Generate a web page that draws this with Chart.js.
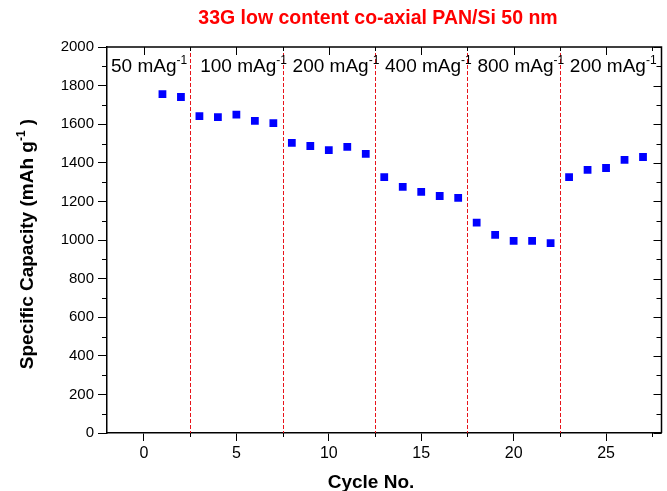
<!DOCTYPE html>
<html>
<head>
<meta charset="utf-8">
<script src="https://cdn.jsdelivr.net/npm/chart.js@4"></script>
<style>
  body { margin: 0; background: #fff; }
</style>
</head>
<body>
<canvas id="rateChart" width="667" height="491"></canvas>
<script>
// cycle number vs specific capacity (mAh/g)
const cycles = [1, 2, 3, 4, 5, 6, 7, 8, 9, 10, 11, 12, 13, 14, 15, 16, 17, 18, 19, 20, 21, 22, 23, 24, 25, 26, 27];
const capacity = [1756, 1741, 1642, 1637, 1650, 1617, 1606, 1503, 1487, 1466, 1482, 1446,
                  1326, 1275, 1249, 1228, 1218, 1090, 1026, 995, 995, 984,
                  1326, 1363, 1373, 1415, 1430];
// current-rate changes happen between these cycles
const rateBoundaries = [2.5, 7.5, 12.5, 17.5, 22.5];
const rateLabels = ['50', '100', '200', '400', '800', '200'];
const xTicks = [0, 5, 10, 15, 20, 25];
const xMinor = [2.5, 7.5, 12.5, 17.5, 22.5, 27.5];
const yMinor = [100, 300, 500, 700, 900, 1100, 1300, 1500, 1700, 1900];

const FONT = '"Liberation Sans", Arial, sans-serif';

function drawSup(ctx, base, sup, x, y, font, supFont, rise) {
    ctx.font = font;
    ctx.fillText(base, x, y);
    const w = ctx.measureText(base).width;
    ctx.font = supFont;
    ctx.fillText(sup, x + w, y - rise);
    return w + ctx.measureText(sup).width;
}

function supWidth(ctx, base, sup, font, supFont) {
    ctx.font = font;
    const w = ctx.measureText(base).width;
    ctx.font = supFont;
    return w + ctx.measureText(sup).width;
}

const decor = {
    id: 'decor',
    beforeDatasetsDraw(chart) {
        const ctx = chart.ctx;
        const area = chart.chartArea;
        const xs = chart.scales.x;
        ctx.save();
        ctx.strokeStyle = '#e8141b';
        ctx.lineWidth = 1;
        ctx.setLineDash([4, 2]);
        rateBoundaries.forEach(b => {
            const px = Math.round(xs.getPixelForValue(b)) + 0.5;
            ctx.beginPath();
            ctx.moveTo(px, area.top);
            ctx.lineTo(px, area.bottom);
            ctx.stroke();
        });
        ctx.restore();
    },
    afterDraw(chart) {
        const ctx = chart.ctx;
        const area = chart.chartArea;
        const xs = chart.scales.x;
        const ys = chart.scales.y;
        ctx.save();
        ctx.strokeStyle = '#000';
        ctx.lineWidth = 1.5;
        // frame top + right
        ctx.beginPath();
        ctx.moveTo(area.left, area.top);
        ctx.lineTo(area.right, area.top);
        ctx.lineTo(area.right, area.bottom);
        ctx.stroke();

        ctx.lineWidth = 1;
        ctx.beginPath();
        xTicks.forEach(v => {
            const px = Math.round(xs.getPixelForValue(v)) + 0.5;
            ctx.moveTo(px, area.top);
            ctx.lineTo(px, area.top + 8);
        });
        xMinor.forEach(v => {
            const px = Math.round(xs.getPixelForValue(v)) + 0.5;
            ctx.moveTo(px, area.top);
            ctx.lineTo(px, area.top + 4);
            ctx.moveTo(px, area.bottom);
            ctx.lineTo(px, area.bottom + 4);
        });
        ys.ticks.forEach(t => {
            const py = Math.round(ys.getPixelForValue(t.value)) + 0.5;
            ctx.moveTo(area.right, py);
            ctx.lineTo(area.right - 8, py);
        });
        yMinor.forEach(v => {
            const py = Math.round(ys.getPixelForValue(v)) + 0.5;
            ctx.moveTo(area.left, py);
            ctx.lineTo(area.left - 5, py);
            ctx.moveTo(area.right, py);
            ctx.lineTo(area.right - 5, py);
        });
        ctx.stroke();

        ctx.fillStyle = '#000';
        ctx.textBaseline = 'alphabetic';
        ctx.textAlign = 'left';

        // rate labels
        const edges = [xs.min].concat(rateBoundaries);
        rateLabels.forEach((r, i) => {
            const px = xs.getPixelForValue(edges[i]) + (i === 0 ? 4 : 10);
            drawSup(ctx, r + ' mAg', '-1', px, area.top + 25, '19px ' + FONT, '12px ' + FONT, 8);
        });

        // title
        ctx.fillStyle = '#ff0000';
        ctx.textAlign = 'center';
        ctx.font = 'bold 19.5px ' + FONT;
        ctx.fillText('33G low content co-axial PAN/Si 50 nm', 378, 24);

        // x title
        ctx.fillStyle = '#000';
        ctx.font = 'bold 19px ' + FONT;
        ctx.fillText('Cycle No.', 371, 488);

        // y title, rotated
        ctx.translate(33, 244);
        ctx.rotate(-Math.PI / 2);
        ctx.textAlign = 'left';
        const f = 'bold 19px ' + FONT, sf = 'bold 12px ' + FONT;
        const w = supWidth(ctx, 'Specific Capacity (mAh g', '-1', f, sf);
        ctx.font = f;
        const wp = ctx.measureText(' )').width;
        const x0 = -(w + wp) / 2;
        const used = drawSup(ctx, 'Specific Capacity (mAh g', '-1', x0, 0, f, sf, 8);
        ctx.font = f;
        ctx.fillText(' )', x0 + used, 0);
        ctx.restore();
    }
};

new Chart(document.getElementById('rateChart'), {
    type: 'scatter',
    data: {
        datasets: [{
            data: cycles.map((c, i) => ({ x: c, y: capacity[i] })),
            pointStyle: 'rect',
            pointRadius: 5.5,
            pointBackgroundColor: '#0000ff',
            pointBorderColor: '#0000ff',
            pointBorderWidth: 0,
            showLine: false
        }]
    },
    options: {
        responsive: false,
        animation: false,
        devicePixelRatio: 1,
        layout: { padding: { top: 47, right: 1.5, left: 0, bottom: 0 } },
        plugins: {
            legend: { display: false },
            tooltip: { enabled: false }
        },
        scales: {
            x: {
                type: 'linear',
                min: -2,
                max: 28,
                afterBuildTicks: scale => {
                    scale.ticks = xTicks.map(v => ({ value: v }));
                },
                afterFit: scale => { scale.height = 58; },
                ticks: {
                    color: '#000',
                    font: { family: FONT, size: 16 },
                    padding: 3,
                    maxRotation: 0
                },
                grid: {
                    drawOnChartArea: false,
                    color: '#000',
                    tickLength: 8
                },
                border: { color: '#000', width: 1.5 }
            },
            y: {
                min: 0,
                max: 2000,
                afterFit: scale => { scale.width = 107; },
                ticks: {
                    stepSize: 200,
                    color: '#000',
                    font: { family: FONT, size: 15 },
                    padding: 4,
                    callback: v => String(v)
                },
                grid: {
                    drawOnChartArea: false,
                    color: '#000',
                    tickLength: 9
                },
                border: { color: '#000', width: 1.5 }
            }
        }
    },
    plugins: [decor]
});
</script>
</body>
</html>
